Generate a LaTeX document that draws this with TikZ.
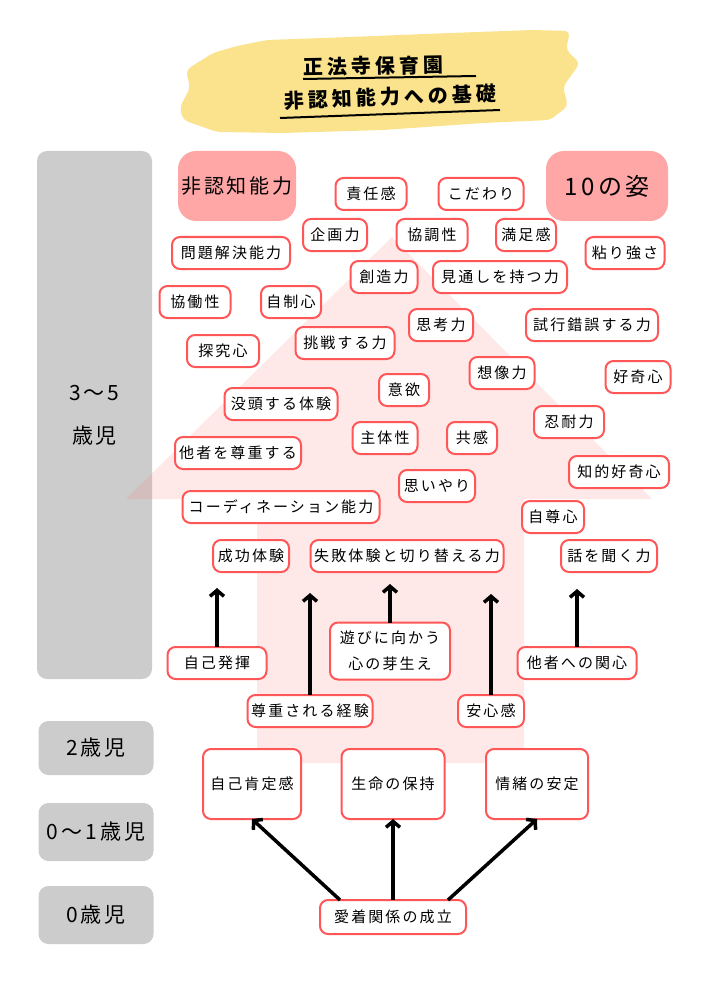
\documentclass[tikz,border=0pt]{standalone}
\usepackage{fontspec}
\newfontfamily\jp{Noto Sans CJK JP}[LetterSpace=14]
\newfontfamily\jpt{Noto Sans CJK JP}[LetterSpace=20]
\usetikzlibrary{arrows.meta}
\definecolor{kred}{HTML}{FF5757}
\definecolor{kpink}{HTML}{FFA6A6}
\definecolor{kgray}{HTML}{CCCCCC}
\definecolor{kyellow}{HTML}{FBE38E}
\definecolor{kshade}{HTML}{FF7878}
\begin{document}
\begin{tikzpicture}[x=1pt,y=-1pt,inner sep=0pt,outer sep=0pt,
kbox/.style={draw=kred,fill=white,line width=2pt,rounded corners=8pt,minimum height=32pt,font=\jp\fontsize{15}{18}\selectfont},
headbox/.style={fill=kpink,rounded corners=18pt,minimum height=70pt,font=\jp\fontsize{20}{22}\selectfont},
agebox/.style={fill=kgray,rounded corners=10pt,minimum width=115pt,align=center,font=\jp\fontsize{21}{43}\selectfont},
uparrow/.style={line width=3.5pt,-{Straight Barb[length=6pt,width=14pt]}}]

\useasboundingbox (0,0) rectangle (707,1000);
\fill[white] (0,0) rectangle (707,1000);

\fill[kyellow,rounded corners=5pt] (267,40) -- (350,37) -- (450,33) -- (533,30) -- (570,31) -- (566,50) -- (580,63) -- (563,87) -- (568,106) -- (550,120) -- (483,123) -- (383,130) -- (283,133) -- (217,132) -- (183,120) -- (180,107) -- (190,88) -- (186,70) -- (213,53) -- (237,46) -- cycle;
\draw (373,66) node[rotate=1,font=\jpt\bfseries\fontsize{20}{22}\selectfont] (title) {正法寺保育園};
\draw (390,97) node[rotate=2,font=\jpt\bfseries\fontsize{20}{22}\selectfont] (subtitle) {非認知能力への基礎};
\draw[line width=2pt] (303,79) -- (476,76);
\draw[line width=2pt] (280,118) -- (500,110);

\draw (94.5,415) node[agebox,minimum height=528pt] (age35) {3〜5\\歳児};
\draw (96,748) node[agebox,minimum height=54pt] (age2) {2歳児};
\draw (96,832) node[agebox,minimum height=58pt] (age01) {0〜1歳児};
\draw (96,915) node[agebox,minimum height=58pt] (age0) {0歳児};

\fill[kshade,fill opacity=0.17] (392,237) -- (652,499) -- (524,499) -- (524,763) -- (257,763) -- (257,499) -- (126,499) -- cycle;

\draw (237,186) node[headbox,minimum width=118pt] (hinin) {非認知能力};
\draw (607,186) node[headbox,minimum width=122pt,font=\jp\fontsize{24}{26}\selectfont] (sugata) {10の姿};

\draw (371,194) node[kbox,minimum width=71pt] (sekinin) {責任感};
\draw (481,194) node[kbox,minimum width=85pt] (kodawari) {こだわり};
\draw (335,235) node[kbox,minimum width=64pt] (kikaku) {企画力};
\draw (432,235) node[kbox,minimum width=71pt] (kyouchou) {協調性};
\draw (526,235) node[kbox,minimum width=60pt] (manzoku) {満足感};
\draw (231,253) node[kbox,minimum width=118pt] (mondai) {問題解決能力};
\draw (625,253) node[kbox,minimum width=79pt] (nebari) {粘り強さ};
\draw (384,277) node[kbox,minimum width=67pt] (souzou) {創造力};
\draw (500,277) node[kbox,minimum width=134pt] (mitooshi) {見通しを持つ力};
\draw (195,302) node[kbox,minimum width=71pt] (kyoudou) {協働性};
\draw (291,302) node[kbox,minimum width=60pt] (jisei) {自制心};
\draw (441,325) node[kbox,minimum width=64pt] (shikou) {思考力};
\draw (592,325) node[kbox,minimum width=132pt] (shikou2) {試行錯誤する力};
\draw (223,351) node[kbox,minimum width=72pt] (tankyu) {探究心};
\draw (345,343) node[kbox,minimum width=99pt] (chousen) {挑戦する力};
\draw (502,373) node[kbox,minimum width=65pt] (souzou2) {想像力};
\draw (638,377) node[kbox,minimum width=65pt] (koukishin) {好奇心};
\draw (404,390) node[kbox,minimum width=50pt] (iyoku) {意欲};
\draw (281,404) node[kbox,minimum width=113pt] (bottou) {没頭する体験};
\draw (569,422) node[kbox,minimum width=70pt] (nintai) {忍耐力};
\draw (385,438) node[kbox,minimum width=65pt] (shutai) {主体性};
\draw (472,438) node[kbox,minimum width=50pt] (kyoukan) {共感};
\draw (238,453) node[kbox,minimum width=126pt] (tasha) {他者を尊重する};
\draw (619,472) node[kbox,minimum width=100pt] (chiteki) {知的好奇心};
\draw (437,486) node[kbox,minimum width=76pt] (omoiyari) {思いやり};
\draw (281,507) node[kbox,minimum width=197pt] (coord) {コーディネーション能力};
\draw (553,517) node[kbox,minimum width=62pt] (sonshin) {自尊心};
\draw (251,556) node[kbox,minimum width=76pt] (seikou) {成功体験};
\draw (407,556) node[kbox,minimum width=193pt] (shippai) {失敗体験と切り替える力};
\draw (609,556) node[kbox,minimum width=96pt] (hanashi) {話を聞く力};

\draw (217,663) node[kbox,minimum width=99pt] (hakki) {自己発揮};
\draw (390,651) node[kbox,minimum width=120pt,minimum height=57pt,align=center,font=\jp\fontsize{15}{26}\selectfont] (asobi) {遊びに向かう\\心の芽生え};
\draw (577,663) node[kbox,minimum width=119pt] (kanshin) {他者への関心};
\draw (310,711) node[kbox,minimum width=125pt] (sonchou) {尊重される経験};
\draw (491,711) node[kbox,minimum width=66pt] (anshin) {安心感};
\draw (252,784) node[kbox,minimum width=98pt,minimum height=70pt] (koutei) {自己肯定感};
\draw (393,784) node[kbox,minimum width=103pt,minimum height=70pt] (seimei) {生命の保持};
\draw (537,784) node[kbox,minimum width=102pt,minimum height=70pt] (jouchoku) {情緒の安定};
\draw (393,917) node[kbox,minimum width=146pt,minimum height=34pt] (aichaku) {愛着関係の成立};

\coordinate (hakkitop) at (217,588);
\coordinate (sonchoutop) at (310,593);
\coordinate (asobitop) at (390,584);
\coordinate (anshintop) at (491,594);
\coordinate (kanshintop) at (577,589);
\draw[uparrow] (hakki.north) -- (hakkitop);
\draw[uparrow] (sonchou.north) -- (sonchoutop);
\draw[uparrow] (asobi.north) -- (asobitop);
\draw[uparrow] (anshin.north) -- (anshintop);
\draw[uparrow] (kanshin.north) -- (kanshintop);
\draw[uparrow] ([xshift=-53pt]aichaku.north) -- (koutei.south);
\draw[uparrow] (aichaku.north) -- (seimei.south);
\draw[uparrow] ([xshift=55pt]aichaku.north) -- (jouchoku.south);
\end{tikzpicture}
\end{document}
